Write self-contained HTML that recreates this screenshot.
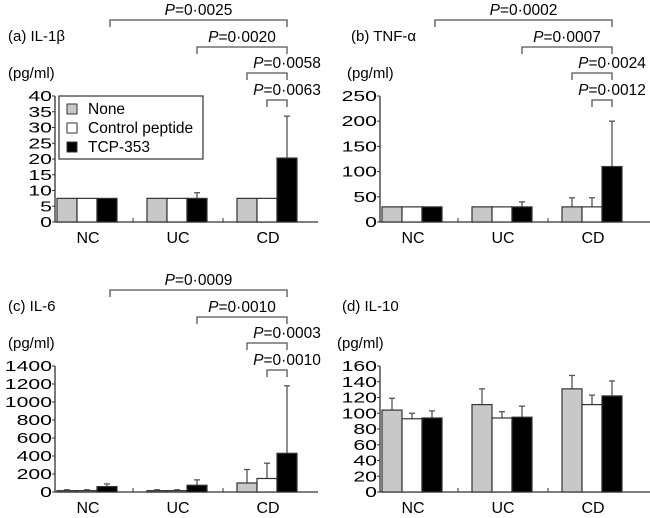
<!DOCTYPE html>
<html><head><meta charset="utf-8"><style>
html,body{margin:0;padding:0;background:#fff}
svg{display:block;font-family:"Liberation Sans",Arial,sans-serif}
</style></head><body>
<svg id="fig" width="650" height="518" viewBox="0 0 650 518" xmlns="http://www.w3.org/2000/svg"></svg>
<script>
const categories = ["NC","UC","CD"];
const seriesNames = ["None","Control peptide","TCP-353"];
// panel a IL-1β
const aValues = [[7.5,7.5,7.5],[7.5,7.5,7.5],[7.5,7.5,20.3]];
const aErrors = [[7.5,7.5,7.5],[7.5,7.5,9.3],[7.5,7.5,33.6]];
const aTicks = [0,5,10,15,20,25,30,35,40];
const aP = ["0·0025","0·0020","0·0058","0·0063"];
// panel b TNF-α
const bValues = [[30,30,30],[30,30,30],[30,30,110]];
const bErrors = [[30,30,30],[30,30,40],[48,48,200]];
const bTicks = [0,50,100,150,200,250];
const bP = ["0·0002","0·0007","0·0024","0·0012"];
// panel c IL-6
const cValues = [[15,15,60],[15,15,75],[100,150,430]];
const cErrors = [[25,25,90],[25,25,135],[250,320,1180]];
const cTicks = [0,200,400,600,800,1000,1200,1400];
const cP = ["0·0009","0·0010","0·0003","0·0010"];
// panel d IL-10
const dValues = [[104,93,94],[111,94,95],[131,111,122]];
const dErrors = [[119,100,103],[131,102,109],[148,123,141]];
const dTicks = [0,20,40,60,80,100,120,140,160];

const NS="http://www.w3.org/2000/svg";
const svg=document.getElementById('fig');
function mk(tag,attrs,parent,text){const e=document.createElementNS(NS,tag);for(const k in attrs)e.setAttribute(k,attrs[k]);if(text!==undefined)e.textContent=text;(parent||svg).appendChild(e);return e;}
const fills=["#c8c8c8","#ffffff","#000000"];

function panel(ox,oy,name,title,values,errors,ticks,pvals,legend,tx0,ux0){
  const g=mk('g',{transform:`translate(${ox},${oy})`});
  
  
  const ax0=55, y0=222, yTop=96, xEnd=ox===0?318:325;
  const ymax=ticks[ticks.length-1];
  const ys=v=>y0-(v/ymax)*(y0-yTop);
  const xs=(ci,si)=>57+ci*90+si*20;
  const t=mk('text',{x:tx0,y:41,'font-size':15},g,title);
  
  
  const u=mk('text',{x:ux0,y:78,'font-size':15},g,'(pg/ml)');
  
  
  const ya=mk('line',{x1:ax0,y1:yTop,x2:ax0,y2:y0,stroke:'#333','stroke-width':1.3},g);
  
  
  const xa=mk('line',{x1:ax0,y1:y0,x2:xEnd,y2:y0,stroke:'#333','stroke-width':1.3},g);
  
  
  ticks.forEach(tv=>{
    const y=ys(tv);
    mk('line',{x1:ax0-3,y1:y,x2:ax0,y2:y,stroke:'#333'},g);
    const s=String(tv);
    const tl=mk('text',{x:ax0-3,y:y+5,'font-size':15,'text-anchor':'end',textLength:s.length*11.8,lengthAdjust:'spacingAndGlyphs'},g,s);
    
    
  });
  [133,223].forEach(x=>mk('line',{x1:x,y1:y0,x2:x,y2:y0-4,stroke:'#333'},g));
  categories.forEach((c,ci)=>{
    const cl=mk('text',{x:88+ci*90,y:243,'font-size':16,'text-anchor':'middle'},g,c);
    
    
    for(let si=0;si<3;si++){
      const v=values[ci][si], e=errors[ci][si], x=xs(ci,si);
      if(e>v){
        const cx=x+10;
        mk('line',{x1:cx,y1:ys(v),x2:cx,y2:ys(e),stroke:'#555','stroke-width':1.3},g);
        mk('line',{x1:cx-3,y1:ys(e),x2:cx+3,y2:ys(e),stroke:'#555','stroke-width':1.3},g);
      }
      const r=mk('rect',{x:x,y:ys(v),width:20,height:y0-ys(v),fill:fills[si],stroke:'#333','stroke-width':1.2},g);
      
      
    }
  });
  if(pvals){
    const starts=[110,197,247,267], ly=[20,47,73,100];
    pvals.forEach((p,i)=>{
      const x1=starts[i], x2=287, y=ly[i];
      const br=mk('path',{d:`M${x1} ${y+7}V${y}H${x2}V${y+7}`,fill:'none',stroke:'#555','stroke-width':1.3},g);
      
      
      const tx=mk('text',{x:i<2?(x1+x2)/2:x2,y:y-5,'font-size':15.5,'text-anchor':'middle'},g);
      
      
      mk('tspan',{'font-style':'italic'},tx,'P');
      mk('tspan',{},tx,'='+p);
    });
  }
  if(legend){
    const lg=mk('g',{},g);
    
    
    mk('rect',{x:59,y:96,width:144,height:63,fill:'#fff',stroke:'#333','stroke-width':1.2},lg);
    seriesNames.forEach((s,i)=>{
      const y=104+i*19;
      const sw=mk('rect',{x:67,y:y,width:10,height:10,fill:fills[i],stroke:'#333'},lg);
      
      
      const lt=mk('text',{x:88,y:y+10,'font-size':15.5},lg,s);
      
      
    });
  }
}
panel(0,0,'panel-a-il1b','(a) IL-1β',aValues,aErrors,aTicks,aP,true,8,8);
panel(325,0,'panel-b-tnfa','(b) TNF-α',bValues,bErrors,bTicks,bP,false,26,22);
panel(0,270,'panel-c-il6','(c) IL-6',cValues,cErrors,cTicks,cP,false,8,8);
panel(325,270,'panel-d-il10','(d) IL-10',dValues,dErrors,dTicks,null,false,17,12);
</script>
</body></html>
